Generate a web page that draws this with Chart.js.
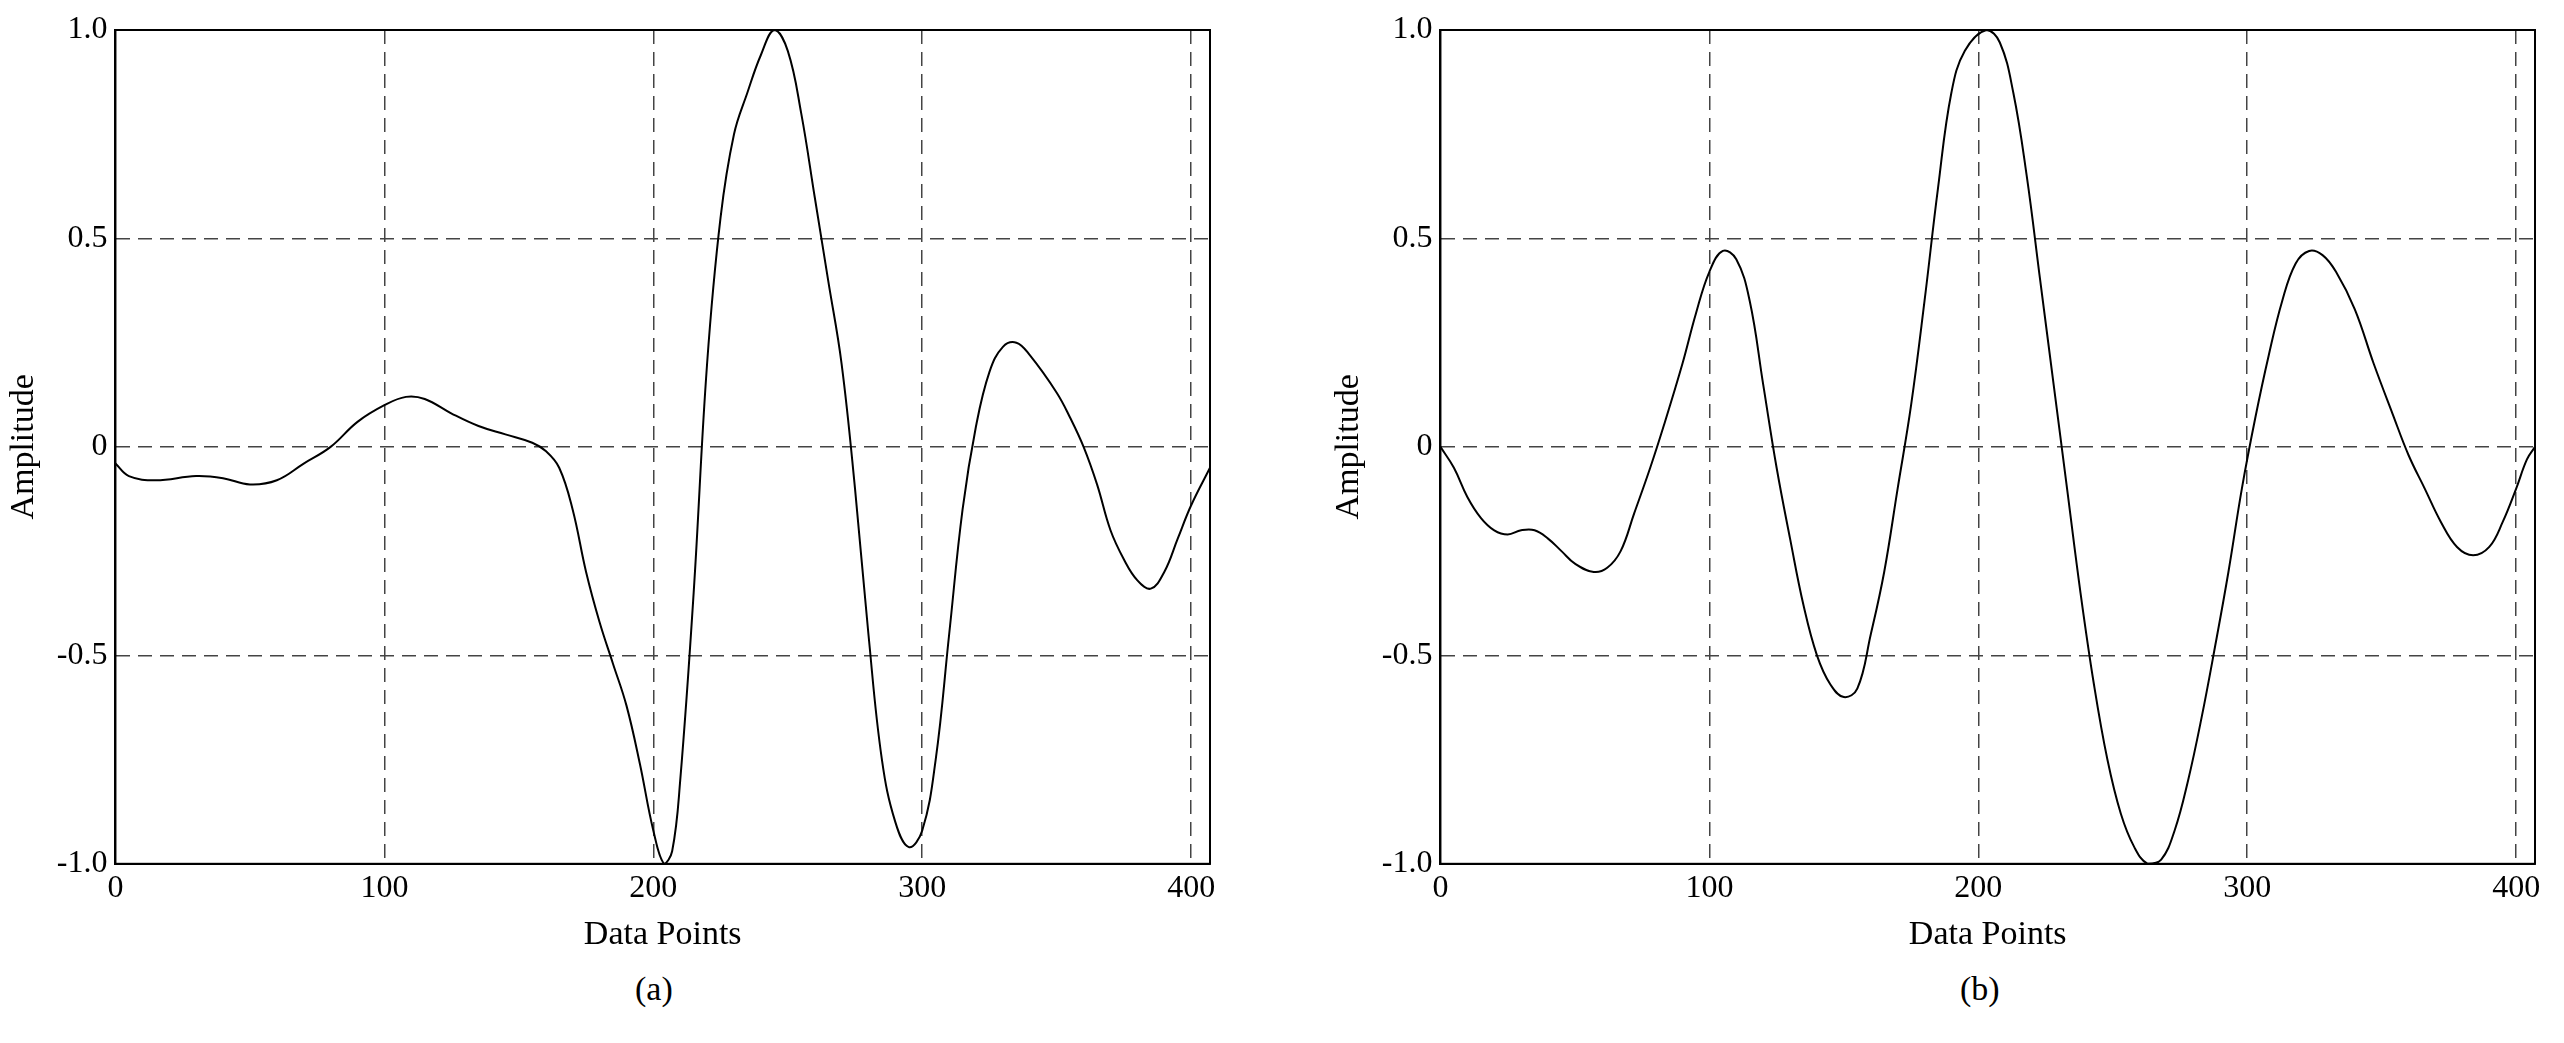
<!DOCTYPE html>
<html><head><meta charset="utf-8">
<script src="https://cdn.jsdelivr.net/npm/chart.js@4"></script>
<style>
body{margin:0;background:#fff;width:2564px;height:1043px;position:relative;overflow:hidden;font-family:"Liberation Serif",serif}
.box{position:absolute;top:0;height:955px}
.cap{position:absolute;top:970px;font-size:34px;color:#000}
</style></head><body>
<div class="box" style="left:0;width:1232px"><canvas id="ca"></canvas></div>
<div class="box" style="left:1325px;width:1232px"><canvas id="cb"></canvas></div>
<div class="cap" style="left:635px">(a)</div>
<div class="cap" style="left:1960px">(b)</div>
<script>
const xa = [0,5,15,30,40,50,60,70,80,90,100,108,115,125,135,145,155,160,165,170,175,180,185,190,195,200,204,207,210,215,220,225,230,235,240,245,250,255,260,265,270,275,280,285,290,295,300,305,310,315,320,325,330,335,340,350,355,360,365,370,375,380,385,390,395,400,407];
const ya = [-0.04,-0.07,-0.08,-0.07,-0.075,-0.09,-0.08,-0.04,0,0.06,0.1,0.12,0.115,0.08,0.05,0.03,0.01,-0.01,-0.05,-0.15,-0.3,-0.42,-0.52,-0.62,-0.76,-0.92,-1,-0.97,-0.8,-0.35,0.2,0.55,0.75,0.85,0.94,1,0.95,0.8,0.6,0.4,0.2,-0.1,-0.45,-0.75,-0.9,-0.96,-0.92,-0.75,-0.45,-0.15,0.05,0.18,0.24,0.25,0.22,0.13,0.07,0,-0.09,-0.2,-0.27,-0.32,-0.34,-0.3,-0.22,-0.14,-0.05];
const xb = [0,5,10,15,20,25,30,35,40,45,50,57,62,67,72,78,83,90,95,100,105,110,115,120,125,130,135,140,145,150,155,160,165,170,175,180,185,190,195,203,208,213,218,223,228,233,238,243,248,253,258,263,268,273,278,283,288,293,298,303,308,313,318,323,328,333,340,347,354,360,366,372,378,384,390,395,400,404,407];
const yb = [0,-0.05,-0.12,-0.17,-0.2,-0.21,-0.2,-0.2,-0.22,-0.25,-0.28,-0.3,-0.29,-0.25,-0.16,-0.05,0.05,0.2,0.32,0.42,0.47,0.45,0.35,0.15,-0.05,-0.22,-0.38,-0.5,-0.57,-0.6,-0.58,-0.45,-0.3,-0.1,0.1,0.35,0.62,0.85,0.95,1,0.97,0.85,0.65,0.4,0.15,-0.1,-0.35,-0.57,-0.75,-0.88,-0.96,-1,-0.99,-0.92,-0.8,-0.65,-0.48,-0.3,-0.1,0.07,0.22,0.35,0.44,0.47,0.46,0.42,0.33,0.2,0.08,-0.02,-0.1,-0.18,-0.24,-0.26,-0.24,-0.18,-0.1,-0.03,0];
const xTicks = [0,100,200,300,400];
const yTicks = [-1,-0.5,0,0.5,1];

Chart.defaults.font.family = '"Liberation Serif", serif';
Chart.defaults.color = '#000';

const grid = (inner) => ({
    color: c => inner(c.tick && c.tick.value) ? '#444' : 'rgba(0,0,0,0)',
    lineWidth: 1.5,
    tickLength: 0,
    drawTicks: false
});

const makeChart = (id, xs, ys) => new Chart(document.getElementById(id), {
    type: 'line',
    data: { datasets: [{ data: xs.map((x, i) => ({ x: x, y: ys[i] })), borderColor: '#000', borderWidth: 2, pointRadius: 0, tension: 0.4, fill: false }] },
    options: {
        animation: false, responsive: true, maintainAspectRatio: false,
        layout: { padding: { top: 30, right: 22 } },
        plugins: { legend: { display: false }, tooltip: { enabled: false } },
        scales: {
            x: {
                type: 'linear', min: 0, max: 407,
                afterBuildTicks: a => { a.ticks = xTicks.map(v => ({ value: v })); },
                ticks: { font: { size: 32 }, padding: 6, maxRotation: 0 },
                grid: grid(v => v > 0 && v < 407),
                border: { display: true, color: '#000', width: 2, dash: [14, 8] },
                title: { display: true, text: 'Data Points', font: { size: 34 }, padding: 0 }
            },
            y: {
                min: -1, max: 1,
                afterBuildTicks: a => { a.ticks = yTicks.map(v => ({ value: v })); },
                ticks: { font: { size: 32 }, padding: 8 },
                grid: grid(v => v > -1 && v < 1),
                border: { display: true, color: '#000', width: 2, dash: [14, 8] },
                title: { display: true, text: 'Amplitude', font: { size: 34 }, padding: 4 }
            }
        }
    },
    plugins: [{
        id: 'frame',
        afterDraw: c => {
            const a = c.chartArea, g = c.ctx;
            g.save(); g.strokeStyle = '#000'; g.lineWidth = 2;
            g.strokeRect(a.left, a.top, a.right - a.left, a.bottom - a.top);
            g.restore();
        }
    }]
});

makeChart('ca', xa, ya);
makeChart('cb', xb, yb);
</script>
</body></html>
